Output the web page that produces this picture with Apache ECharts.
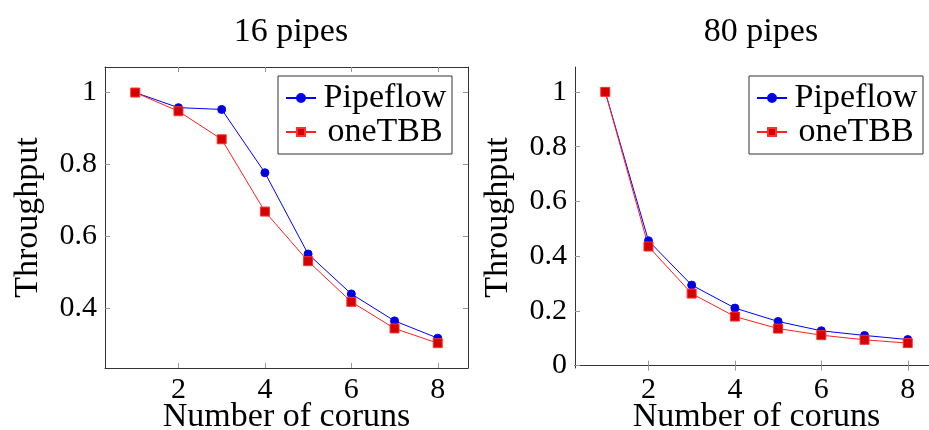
<!DOCTYPE html>
<html>
<head>
<meta charset="utf-8">
<script src="https://cdn.jsdelivr.net/npm/echarts@6/dist/echarts.min.js"></script>
<style>
  html, body { margin: 0; padding: 0; background: #fff; }
  #main { width: 929px; height: 430px; }
</style>
</head>
<body>
<div id="main"></div>
<script>
var coruns = [1, 2, 3, 4, 5, 6, 7, 8];
var xTicks = [2, 4, 6, 8];
var pipeflow16 = [1, 0.958, 0.953, 0.777, 0.551, 0.440, 0.365, 0.317];
var onetbb16 = [1, 0.948, 0.870, 0.669, 0.531, 0.418, 0.344, 0.303];
var pipeflow80 = [1, 0.456, 0.294, 0.210, 0.161, 0.127, 0.110, 0.095];
var onetbb80 = [1, 0.435, 0.263, 0.179, 0.135, 0.111, 0.094, 0.082];
var yTicks16 = [0.4, 0.6, 0.8, 1];
var yTicks80 = [0, 0.2, 0.4, 0.6, 0.8, 1];

var font = 'Liberation Serif';

function pairs(ys) {
    var out = [];
    for (var i = 0; i < coruns.length; i++) {
        out.push([coruns[i], ys[i]]);
    }
    return out;
}

function xAxes(g) {
    return [
        {
            type: 'value', gridIndex: g, position: 'bottom',
            min: 0.3, max: 8.7,
            name: 'Number of coruns', nameLocation: 'middle', nameGap: 32,
            nameMoveOverlap: false,
            nameTextStyle: { fontFamily: font, fontSize: 34, color: '#000' },
            axisLine: { lineStyle: { color: '#333', width: 1 } },
            axisTick: { inside: true, length: 5, customValues: xTicks, lineStyle: { color: '#999' } },
            axisLabel: { customValues: xTicks, margin: 7, fontFamily: font, fontSize: 30, color: '#000' },
            splitLine: { show: false }
        },
        {
            type: 'value', gridIndex: g, position: 'top',
            min: 0.3, max: 8.7,
            axisLine: { lineStyle: { color: '#333', width: 1 } },
            axisTick: { inside: true, length: 5, customValues: xTicks, lineStyle: { color: '#999' } },
            axisLabel: { show: false },
            splitLine: { show: false }
        }
    ];
}

function yAxes(g, min, max, ticks) {
    return [
        {
            type: 'value', gridIndex: g, position: 'left',
            min: min, max: max,
            name: 'Throughput', nameLocation: 'middle', nameGap: 60,
            nameMoveOverlap: false,
            nameTextStyle: { fontFamily: font, fontSize: 34, color: '#000' },
            axisLine: { show: true, lineStyle: { color: '#333', width: 1 } },
            axisTick: { show: true, inside: true, length: 5, customValues: ticks, lineStyle: { color: '#999' } },
            axisLabel: { customValues: ticks, margin: 8, fontFamily: font, fontSize: 30, color: '#000' },
            splitLine: { show: false }
        },
        {
            type: 'value', gridIndex: g, position: 'right',
            min: min, max: max,
            axisLine: { show: true, lineStyle: { color: '#333', width: 1 } },
            axisTick: { show: true, inside: true, length: 5, customValues: ticks, lineStyle: { color: '#999' } },
            axisLabel: { show: false },
            splitLine: { show: false }
        }
    ];
}

function legend(left) {
    return {
        left: left, top: 76,
        orient: 'vertical',
        data: ['Pipeflow', 'oneTBB'],
        backgroundColor: '#fff',
        borderColor: '#333', borderWidth: 1,
        padding: [5, 3, 5, 7],
        itemGap: 0,
        itemWidth: 30, itemHeight: 10,
        formatter: function (name) { return '{a|' + name + '}'; },
        textStyle: {
            rich: {
                a: { fontFamily: font, fontSize: 34, color: '#000', width: 128, align: 'center', lineHeight: 33 }
            }
        }
    };
}

function line(name, x, y, data, kind) {
    var blue = kind === 'blue';
    return {
        name: name, type: 'line',
        xAxisIndex: x, yAxisIndex: y,
        data: data,
        symbol: blue ? 'circle' : 'rect',
        symbolSize: blue ? 8 : 9,
        lineStyle: { color: blue ? '#0000ff' : '#ff2020', width: 1 },
        itemStyle: {
            color: blue ? '#0000dd' : '#d40000',
            borderColor: blue ? '#0000ff' : '#ff3030',
            borderWidth: 1
        },
        animation: false
    };
}

var myChart = echarts.init(document.getElementById('main'));
var option = {
    backgroundColor: '#fff',
    animation: false,
    title: [
        { text: '16 pipes', left: 286, top: 10, textAlign: 'center',
          textStyle: { fontFamily: font, fontSize: 34, fontWeight: 'normal', color: '#000' } },
        { text: '80 pipes', left: 756, top: 10, textAlign: 'center',
          textStyle: { fontFamily: font, fontSize: 34, fontWeight: 'normal', color: '#000' } }
    ],
    legend: [legend(278), legend(749)],
    grid: [
        { left: 105, top: 67, width: 363, height: 301, outerBoundsMode: 'none', containLabel: false },
        { left: 575, top: 67, width: 363, height: 301, outerBoundsMode: 'none', containLabel: false }
    ],
    xAxis: xAxes(0).concat(xAxes(1)),
    yAxis: yAxes(0, 0.234, 1.071, yTicks16).concat(yAxes(1, -0.009, 1.091, yTicks80)),
    series: [
        line('Pipeflow', 0, 0, pairs(pipeflow16), 'blue'),
        line('oneTBB', 0, 0, pairs(onetbb16), 'red'),
        line('Pipeflow', 2, 2, pairs(pipeflow80), 'blue'),
        line('oneTBB', 2, 2, pairs(onetbb80), 'red')
    ]
};
myChart.setOption(option);
</script>
</body>
</html>
